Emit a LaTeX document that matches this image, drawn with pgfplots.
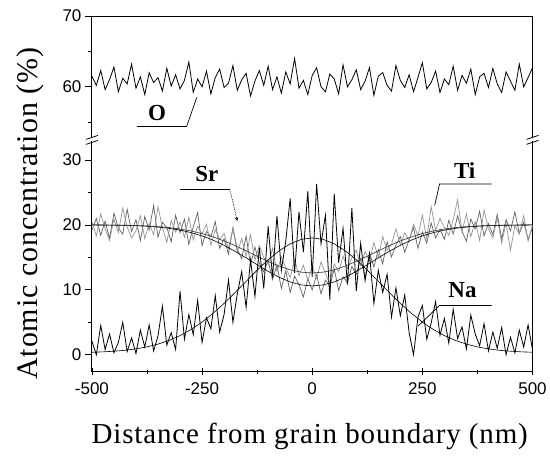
\documentclass[border=0pt]{standalone}
\usepackage{pgfplots}
\pgfplotsset{compat=1.18}
\usepackage{pgfplotstable}
\usepackage{fontspec}
\setmainfont{Liberation Serif}
\newfontfamily\ticksf{Liberation Sans}
\newfontfamily\labfont[LetterSpace=3]{Liberation Serif}

\pgfplotstableread{
x O Na Sr Ti
-500 61.5 2.1 19.2 20.5
-490 60.2 0.0 21.0 18.3
-480 62.3 4.5 18.4 21.7
-470 59.6 0.8 20.6 19.4
-460 61.0 3.2 17.9 17.6
-450 62.8 0.3 21.8 20.9
-440 59.3 1.9 19.5 18.8
-430 61.2 5.0 18.6 22.6
-420 60.4 0.5 22.4 19.7
-410 63.2 2.6 19.0 18.0
-400 59.8 0.2 20.8 19.1
-390 61.4 3.8 17.6 21.4
-380 58.9 1.2 21.3 17.9
-370 62.0 4.6 19.2 20.2
-360 60.6 0.6 23.0 18.5
-350 61.3 2.9 18.1 22.8
-340 59.4 7.5 20.4 19.6
-330 62.6 1.5 19.6 17.3
-320 60.1 3.4 17.4 20.7
-310 61.7 0.8 21.5 18.9
-300 59.7 9.8 18.8 20.4
-290 60.9 2.4 20.9 18.1
-280 63.5 6.2 17.0 21.2
-270 59.2 3.1 19.7 17.7
-260 61.1 8.4 21.9 19.8
-250 60.0 1.9 16.8 18.6
-240 62.2 5.7 19.0 20.1
-230 59.0 4.0 18.2 16.9
-220 61.3 9.1 20.5 19.3
-210 62.5 3.5 16.4 17.8
-200 59.9 6.2 17.9 18.7
-190 60.5 11.5 15.5 16.3
-180 63.0 5.0 19.6 19.4
-170 59.5 9.4 16.2 15.8
-160 61.0 12.8 14.8 17.9
-150 61.9 7.3 18.3 15.2
-140 58.7 14.6 13.9 18.5
-130 60.8 9.0 16.6 14.6
-120 62.3 16.5 14.1 16.8
-110 60.2 10.2 12.8 15.0
-100 62.9 19.8 14.5 13.9
-90 59.6 11.9 11.6 16.4
-80 61.4 21.4 13.8 12.8
-70 59.1 13.0 10.2 15.1
-60 62.1 17.5 12.9 13.4
-50 60.4 24.1 9.6 11.9
-40 64.0 12.6 12.1 14.7
-30 59.8 22.0 10.8 12.2
-20 60.9 15.8 8.9 13.8
-10 58.9 25.2 11.7 11.5
0 61.6 12.0 10.0 13.6
10 62.7 26.3 12.3 11.8
20 60.0 17.1 9.4 14.3
30 59.3 21.5 11.5 12.5
40 61.8 8.5 10.6 10.9
50 61.1 24.8 13.2 14.0
60 59.0 14.2 9.9 12.8
70 63.1 19.5 12.0 15.2
80 60.0 10.8 11.1 13.3
90 61.0 22.6 13.6 14.9
100 62.4 9.8 12.4 16.1
110 59.6 17.2 14.8 13.7
120 60.8 11.4 11.9 15.9
130 62.7 15.6 15.7 14.4
140 58.8 7.9 13.5 17.3
150 61.5 13.0 16.2 15.0
160 62.0 9.6 14.0 18.2
170 60.2 12.4 17.4 16.1
180 59.4 5.8 15.1 17.0
190 63.0 10.3 16.9 19.4
200 60.9 6.0 18.2 16.9
210 59.9 9.2 15.8 18.8
220 61.7 3.4 17.7 17.6
230 59.3 0.0 19.6 20.1
240 61.3 5.8 16.4 18.3
250 63.4 7.6 18.9 21.5
260 59.7 2.4 17.2 17.9
270 60.6 4.9 20.3 22.8
280 62.2 8.2 18.0 19.2
290 59.2 3.0 19.3 21.0
300 61.1 5.6 17.8 19.6
310 60.3 1.8 20.7 18.4
320 62.9 7.0 18.6 20.8
330 59.5 2.5 21.4 23.9
340 61.6 4.3 19.0 19.0
350 60.5 0.9 17.5 21.7
360 62.5 6.1 20.9 18.2
370 58.9 3.2 19.4 20.5
380 61.4 1.4 22.1 17.6
390 61.9 4.8 18.3 22.3
400 59.9 0.6 20.2 19.4
410 62.6 3.5 18.5 18.0
420 60.4 1.0 21.6 21.1
430 59.2 4.2 17.9 17.2
440 62.1 0.0 20.8 20.3
450 60.8 2.7 19.1 16.1
460 59.5 0.3 22.0 19.9
470 63.2 3.8 18.7 18.6
480 60.0 1.2 20.4 21.4
490 61.3 4.6 17.8 17.5
500 62.7 0.8 19.6 20.0
}\data

\pgfplotstableread{
x Na A B
-500 0.39 20.00 20.00
-475 0.45 19.98 19.99
-450 0.55 19.96 19.97
-425 0.69 19.93 19.95
-400 0.91 19.88 19.91
-375 1.21 19.80 19.84
-350 1.64 19.67 19.74
-325 2.21 19.48 19.59
-300 2.95 19.20 19.37
-275 3.89 18.82 19.07
-250 5.04 18.31 18.67
-225 6.39 17.66 18.15
-200 7.92 16.86 17.53
-175 9.58 15.94 16.81
-150 11.31 14.93 16.01
-125 13.03 13.88 15.18
-100 14.64 12.85 14.38
-75 16.02 11.94 13.66
-50 17.09 11.22 13.09
-25 17.77 10.76 12.73
0 18.00 10.60 12.60
25 17.77 10.76 12.73
50 17.09 11.22 13.09
75 16.02 11.94 13.66
100 14.64 12.85 14.38
125 13.03 13.88 15.18
150 11.31 14.93 16.01
175 9.58 15.94 16.81
200 7.92 16.86 17.53
225 6.39 17.66 18.15
250 5.04 18.31 18.67
275 3.89 18.82 19.07
300 2.95 19.20 19.37
325 2.21 19.48 19.59
350 1.64 19.67 19.74
375 1.21 19.80 19.84
400 0.91 19.88 19.91
425 0.69 19.93 19.95
450 0.55 19.96 19.97
475 0.45 19.98 19.99
500 0.39 20.00 20.00
}\fits

\pgfplotsset{
  common/.style={
    scale only axis, width=441pt,
    xmin=-500, xmax=500,
    axis y line=box,
    every non boxed x axis/.append style={x axis line style={-}},
    ytick pos=left,
    tick align=outside,
    major tick length=7pt, minor tick length=4pt,
    tick style={black, line width=0.8pt},
    axis line style={line width=0.9pt},
    tick label style={font=\ticksf\fontsize{17}{17}\selectfont},
    /pgf/number format/assume math mode=true,
    clip=true,
  },
}
\tikzset{lbl/.style={font=\bfseries\fontsize{23}{23}\selectfont}}

\begin{document}
\begin{tikzpicture}
\begin{axis}[common, name=lower, height=232pt,
  ymin=-2.6, ymax=33.1,
  axis x line=bottom,
  xtick={-500,-250,0,250,500}, minor xtick={-375,-125,125,375},
  ytick={0,10,20,30}, minor ytick={5,15,25},
  xticklabel style={yshift=-4pt},
]
\addplot[black!62, line width=0.7pt] table[x=x, y=Sr] {\data};
\addplot[black!42, line width=0.7pt] table[x=x, y=Ti] {\data};
\addplot[black, line width=0.8pt] table[x=x, y=Na] {\data};
\addplot[black, line width=0.6pt] table[x=x, y=A] {\fits};
\addplot[black!80, line width=0.6pt] table[x=x, y=B] {\fits};
\addplot[black, line width=0.6pt] table[x=x, y=Na] {\fits};
\coordinate (o) at (rel axis cs:0,0);
\coordinate (tl) at (rel axis cs:0,1);
\coordinate (tr) at (rel axis cs:1,1);
\node[lbl] at (axis cs:-239,27.9) {Sr};
\draw[line width=0.7pt] (axis cs:-300,25.5) -- (axis cs:-187,25.5);
\draw[line width=0.7pt, densely dotted, -stealth] (axis cs:-187,25.5) -- (axis cs:-170,20.6);
\node[lbl] at (axis cs:346,28.4) {Ti};
\draw[line width=0.7pt] (axis cs:407,26.3) -- (axis cs:289,26.3) -- (axis cs:278,23.0);
\node[lbl] at (axis cs:341,9.9) {Na};
\draw[line width=0.7pt] (axis cs:407,7.6) -- (axis cs:289,7.6) -- (axis cs:240,4.4);
\end{axis}
\begin{axis}[common, at={(tl)}, anchor=south west, height=124pt,
  ymin=52.5, ymax=70,
  axis x line=top, xtick=\empty,
  ytick={60,70}, minor ytick={55,65},
]
\addplot[black, line width=0.8pt] table[x=x, y=O] {\data};
\node[lbl] at (axis cs:-352,56.3) {O};
\draw[line width=0.7pt] (axis cs:-398,54.4) -- (axis cs:-285,54.4) -- (axis cs:-262,58.5);
\end{axis}
% axis breaks
\foreach \c in {tl,tr}{
  \fill[white] ([xshift=-6pt,yshift=-1.5pt]\c) rectangle ([xshift=6pt,yshift=1.5pt]\c);
  \draw[line width=0.8pt] ([xshift=-6pt,yshift=-4.5pt]\c) -- ([xshift=6pt,yshift=-0.5pt]\c);
  \draw[line width=0.8pt] ([xshift=-6pt,yshift=0.5pt]\c) -- ([xshift=6pt,yshift=4.5pt]\c);
}
\node[rotate=90, font=\labfont\fontsize{30}{30}\selectfont] at ([xshift=-62pt,yshift=158pt]o) {Atomic concentration (\%)};
\node[font=\labfont\fontsize{29}{29}\selectfont] at ([xshift=218pt,yshift=-65pt]o) {Distance from grain boundary (nm)};
\path[use as bounding box] ([xshift=-92pt,yshift=-87pt]o) rectangle ([xshift=458pt,yshift=372pt]o);
\end{tikzpicture}
\end{document}
